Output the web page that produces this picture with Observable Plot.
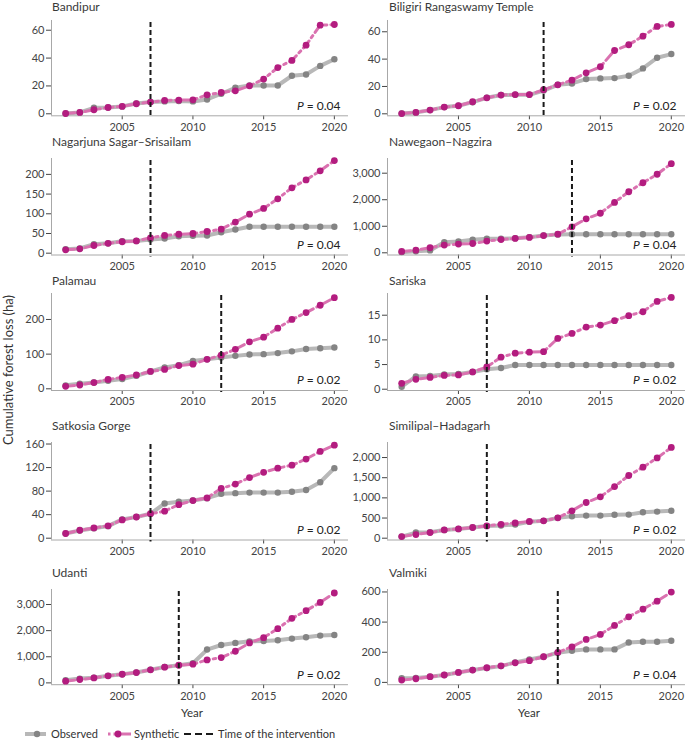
<!DOCTYPE html>
<html>
<head>
<meta charset="utf-8">
<script src="https://cdn.jsdelivr.net/npm/d3@7"></script>
<script src="https://cdn.jsdelivr.net/npm/@observablehq/plot@0.6"></script>
<style>
  html, body { margin: 0; padding: 0; background: #fff; overflow: hidden; }
  #chart { position: relative; width: 685px; height: 740px; font-family: Lato, Roboto, "Liberation Sans", sans-serif; color: #222; }
  .ttl { position: absolute; font-size: 12px; font-weight: 400; line-height: 14px; white-space: nowrap; color: #3a3a3a; }
  .pan { position: absolute; }
  .lbl { position: absolute; font-size: 11.5px; line-height: 13px; white-space: nowrap; color: #333; }
  .leg { position: absolute; font-size: 11px; line-height: 13px; white-space: nowrap; color: #333; }
</style>
</head>
<body>
<div id="chart"></div>
<script>
// ---------------- data ----------------
const years = [2001,2002,2003,2004,2005,2006,2007,2008,2009,2010,2011,2012,2013,2014,2015,2016,2017,2018,2019,2020];

const reserveNames = ["Bandipur", "Biligiri Rangaswamy Temple", "Nagarjuna Sagar–Srisailam", "Nawegaon–Nagzira",
  "Palamau", "Sariska", "Satkosia Gorge", "Similipal–Hadagarh", "Udanti", "Valmiki"];
const interventionYears = [2007, 2011, 2007, 2013, 2012, 2007, 2007, 2007, 2009, 2012];
const pValues = ["0.04", "0.02", "0.04", "0.04", "0.02", "0.02", "0.02", "0.02", "0.02", "0.04"];

const bandipurObserved  = [0.2,1,4.3,4.5,5.3,7.4,8.4,8.9,9.1,8.9,10.3,14.4,18.7,20.3,20.3,20.3,27.3,28.2,34.4,39.2];
const bandipurSynthetic = [0.2,1,2.9,4.5,5.3,7.2,8.4,9.6,9.8,10,13.6,15.3,16.5,20.1,24.9,33.2,38.3,49.3,63.6,64.1];
const biligiriObserved  = [0.2,1,2.7,4.9,5.9,8.5,11.7,13.7,13.9,13.9,17,21.2,22.2,25.4,25.9,26.1,27.8,33.2,41,43.7];
const biligiriSynthetic = [0.2,1,2.7,4.9,5.9,8.8,11.7,13.7,14.1,14.1,17.6,21.2,24.6,30,34.4,46.3,50.5,56.8,63.9,65.4];
const nagarjunaObserved  = [10,12,23,25,30.5,31,35,37,43,44,45,53,60,67,67,67,67,67,67,67];
const nagarjunaSynthetic = [8.5,11,19.5,25,29,31,39,45,48,50,55,61,79,99,113.5,138,166,186,209,235];
const nawegaonObserved  = [25,60,90,400,430,490,530,530,550,590,650,690,700,700,700,700,700,700,700,700];
const nawegaonSynthetic = [50,100,190,290,330,350,440,500,540,580,650,700,980,1280,1490,1900,2300,2640,2960,3360];
const palamauObserved  = [10,14.5,18,23,28,37.5,50,61.5,68,80,85,90,95,99,100,103,108,115,117,119];
const palamauSynthetic = [7,11,18,27,33,40,50,56,67,71,85,97,114,135.5,149,175,200,220,241,263];
const sariskaObserved  = [0.5,2.6,2.7,3.0,3.1,3.5,4.05,4.3,4.9,4.9,4.9,4.9,4.9,4.9,4.9,4.9,4.9,4.9,4.9,4.9];
const sariskaSynthetic = [1.2,2.0,2.4,2.8,2.9,3.5,4.5,6.5,7.3,7.5,7.6,10.3,11.3,12.6,13.0,13.9,14.9,15.7,17.8,18.6];
const satkosiaObserved  = [8,13,17,20.5,32,36,41.5,59,62,64,68,75.5,76.5,77.5,77.5,77.5,79,82,95,119];
const satkosiaSynthetic = [8,13.5,17.5,21,31,36,41.5,46,57,64,68.5,84.5,92,103,112,119,124,134.5,147.5,158];
const similipalObserved  = [40,140,150,205,230,265,300,315,340,405,430,505,545,560,560,580,585,645,660,680];
const similipalSynthetic = [40,90,140,205,230,265,305,345,380,415,430,505,680,885,1025,1280,1555,1760,1990,2250];
const udantiObserved  = [100,165,200,270,330,395,500,610,675,750,1275,1450,1530,1590,1600,1630,1695,1745,1810,1835];
const udantiSynthetic = [65,130,190,270,330,395,500,600,675,715,880,970,1210,1530,1730,2075,2470,2765,3080,3440];
const valmikiObserved  = [27,29,38,49,66,82,95,108,133,152,170,197,210,219,219,219,265,270,270,276];
const valmikiSynthetic = [15,24,38,49,66,82,97,110,130,144,170,199,236,285,318,378,435,486,539,599];

const xTicks = [2005, 2010, 2015, 2020];
const yTickSets = [
  [0,20,40,60], [0,20,40,60], [0,50,100,150,200], [0,1000,2000,3000], [0,100,200],
  [0,5,10,15], [0,40,80,120,160], [0,500,1000,1500,2000], [0,1000,2000,3000], [0,200,400,600]
];
const yDomains = [
  [-1.44, 66.98], [-1.46, 68.25], [-4.6, 240.3], [-83, 3554], [-4.9, 274.9],
  [-0.26, 19.4], [-3.06, 162.6], [-44.6, 2373], [-69, 3574], [-15.3, 616.3]
];

const observedSeries  = [bandipurObserved, biligiriObserved, nagarjunaObserved, nawegaonObserved, palamauObserved,
  sariskaObserved, satkosiaObserved, similipalObserved, udantiObserved, valmikiObserved];
const syntheticSeries = [bandipurSynthetic, biligiriSynthetic, nagarjunaSynthetic, nawegaonSynthetic, palamauSynthetic,
  sariskaSynthetic, satkosiaSynthetic, similipalSynthetic, udantiSynthetic, valmikiSynthetic];

// ---------------- layout ----------------
const rowTop = [20, 158, 293, 442, 589.3];
const rowBottom = [115.3, 254.5, 390, 539.5, 684.5];
const titleCenter = [6.5, 141.7, 281, 426, 573];

const C = {
  obsLine: "#b8b8b8", obsDot: "#848484",
  synLine: "#da72b0", synDot: "#b31c7f",
  axis: "#a8a8a8", text: "#444"
};
const FONT = 'Lato, Roboto, "Liberation Sans", sans-serif';
const SYN_DASH = "9,4,2.5,4";
const chart = document.getElementById("chart");

reserveNames.forEach((name, i) => {
  const col = i % 2, row = Math.floor(i / 2);
  const top = rowTop[row], bottom = rowBottom[row];
  const mT = 6, mB = 26;
  const left = col === 0 ? 0 : 340;
  const width = col === 0 ? 350 : 345;
  const mL = col === 0 ? 51 : 47;
  const mR = col === 0 ? 2 : 0;
  const height = (bottom - top) + mT + mB;
  const data = years.map((yr, j) => ({year: yr, observed: observedSeries[i][j], synthetic: syntheticSeries[i][j]}));
  const ymin = yDomains[i][0];

  const svg = Plot.plot({
    width, height,
    marginTop: mT, marginBottom: mB, marginLeft: mL, marginRight: mR,
    style: {fontFamily: FONT, fontSize: "11px", color: C.text, background: "transparent", overflow: "visible"},
    x: {domain: [2000, 2021], ticks: xTicks, tickFormat: d => String(d), tickSize: 4, tickPadding: 3, label: null},
    y: {domain: yDomains[i], ticks: yTickSets[i], tickFormat: d3.format(","), tickSize: 5, tickPadding: 2, label: null},
    marks: [
      Plot.ruleX([2000], {stroke: C.axis, strokeWidth: 1}),
      Plot.ruleY([ymin], {stroke: C.axis, strokeWidth: 1}),
      Plot.lineY(data, {x: "year", y: "observed", stroke: C.obsLine, strokeWidth: 4, strokeLinejoin: "round"}),
      Plot.lineY(data, {x: "year", y: "synthetic", stroke: C.synLine, strokeWidth: 3, strokeDasharray: SYN_DASH}),
      Plot.dot(data, {x: "year", y: "observed", r: 3.2, fill: C.obsDot}),
      Plot.dot(data, {x: "year", y: "synthetic", r: 3.4, fill: C.synDot}),
      Plot.ruleX([interventionYears[i]], {stroke: "#1a1a1a", strokeWidth: 2, strokeDasharray: "5,3", insetTop: 2, insetBottom: -2}),
      Plot.text(["P = " + pValues[i]], {text: d => d, frameAnchor: "bottom-right", textAnchor: "end", lineAnchor: "middle",
        dx: col === 0 ? -8 : -9, dy: -10, fontSize: 12, fill: "#222"})
    ]
  });
  // italic P
  d3.select(svg).selectAll("text").each(function() {
    const t = this.textContent;
    if (t.startsWith("P = ")) {
      const rest = t.slice(1);
      this.textContent = "";
      d3.select(this).append("tspan").attr("font-style", "italic").text("P");
      d3.select(this).append("tspan").text(rest);
    }
  });
  const wrap = document.createElement("div");
  wrap.className = "pan";
  wrap.style.left = left + "px";
  wrap.style.top = (top - mT) + "px";
  wrap.appendChild(svg);
  chart.appendChild(wrap);

  const ttl = document.createElement("div");
  ttl.className = "ttl";
  ttl.textContent = name;
  ttl.style.left = (col === 0 ? 52 : 389) + "px";
  ttl.style.top = (titleCenter[row] - 7) + "px";
  chart.appendChild(ttl);
});

// axis titles
function addLabel(text, x, y, rotate, size) {
  const d = document.createElement("div");
  d.className = "lbl";
  d.textContent = text;
  d.style.left = x + "px";
  d.style.top = y + "px";
  if (size) d.style.fontSize = size + "px";
  d.style.transform = "translate(-50%,-50%)" + (rotate ? " rotate(-90deg)" : "");
  chart.appendChild(d);
}
addLabel("Cumulative forest loss (ha)", 8, 370, true, 13);
addLabel("Year", 192, 711.5, false);
addLabel("Year", 529, 711.5, false);

// legend
const legendY = 734;
function legSvg(x, w, inner) {
  const s = document.createElementNS("http://www.w3.org/2000/svg", "svg");
  s.setAttribute("width", w); s.setAttribute("height", 12);
  s.style.position = "absolute"; s.style.left = x + "px"; s.style.top = (legendY - 6) + "px";
  s.innerHTML = inner;
  chart.appendChild(s);
}
legSvg(25, 22, `<line x1="0" y1="6" x2="21" y2="6" stroke="${C.obsLine}" stroke-width="4"/><circle cx="12" cy="6" r="3.2" fill="${C.obsDot}"/>`);
legSvg(107, 25, `<line x1="1" y1="6" x2="24" y2="6" stroke="${C.synLine}" stroke-width="3" stroke-dasharray="2.5,3,19"/><circle cx="11" cy="6" r="3.4" fill="${C.synDot}"/>`);
legSvg(184, 30, `<line x1="0" y1="6" x2="29" y2="6" stroke="#1a1a1a" stroke-width="2" stroke-dasharray="7,4"/>`);
function legText(t, x) {
  const d = document.createElement("div");
  d.className = "leg"; d.textContent = t;
  d.style.left = x + "px"; d.style.top = (legendY - 7) + "px";
  chart.appendChild(d);
}
legText("Observed", 51);
legText("Synthetic", 134);
legText("Time of the intervention", 218);
</script>
</body>
</html>
